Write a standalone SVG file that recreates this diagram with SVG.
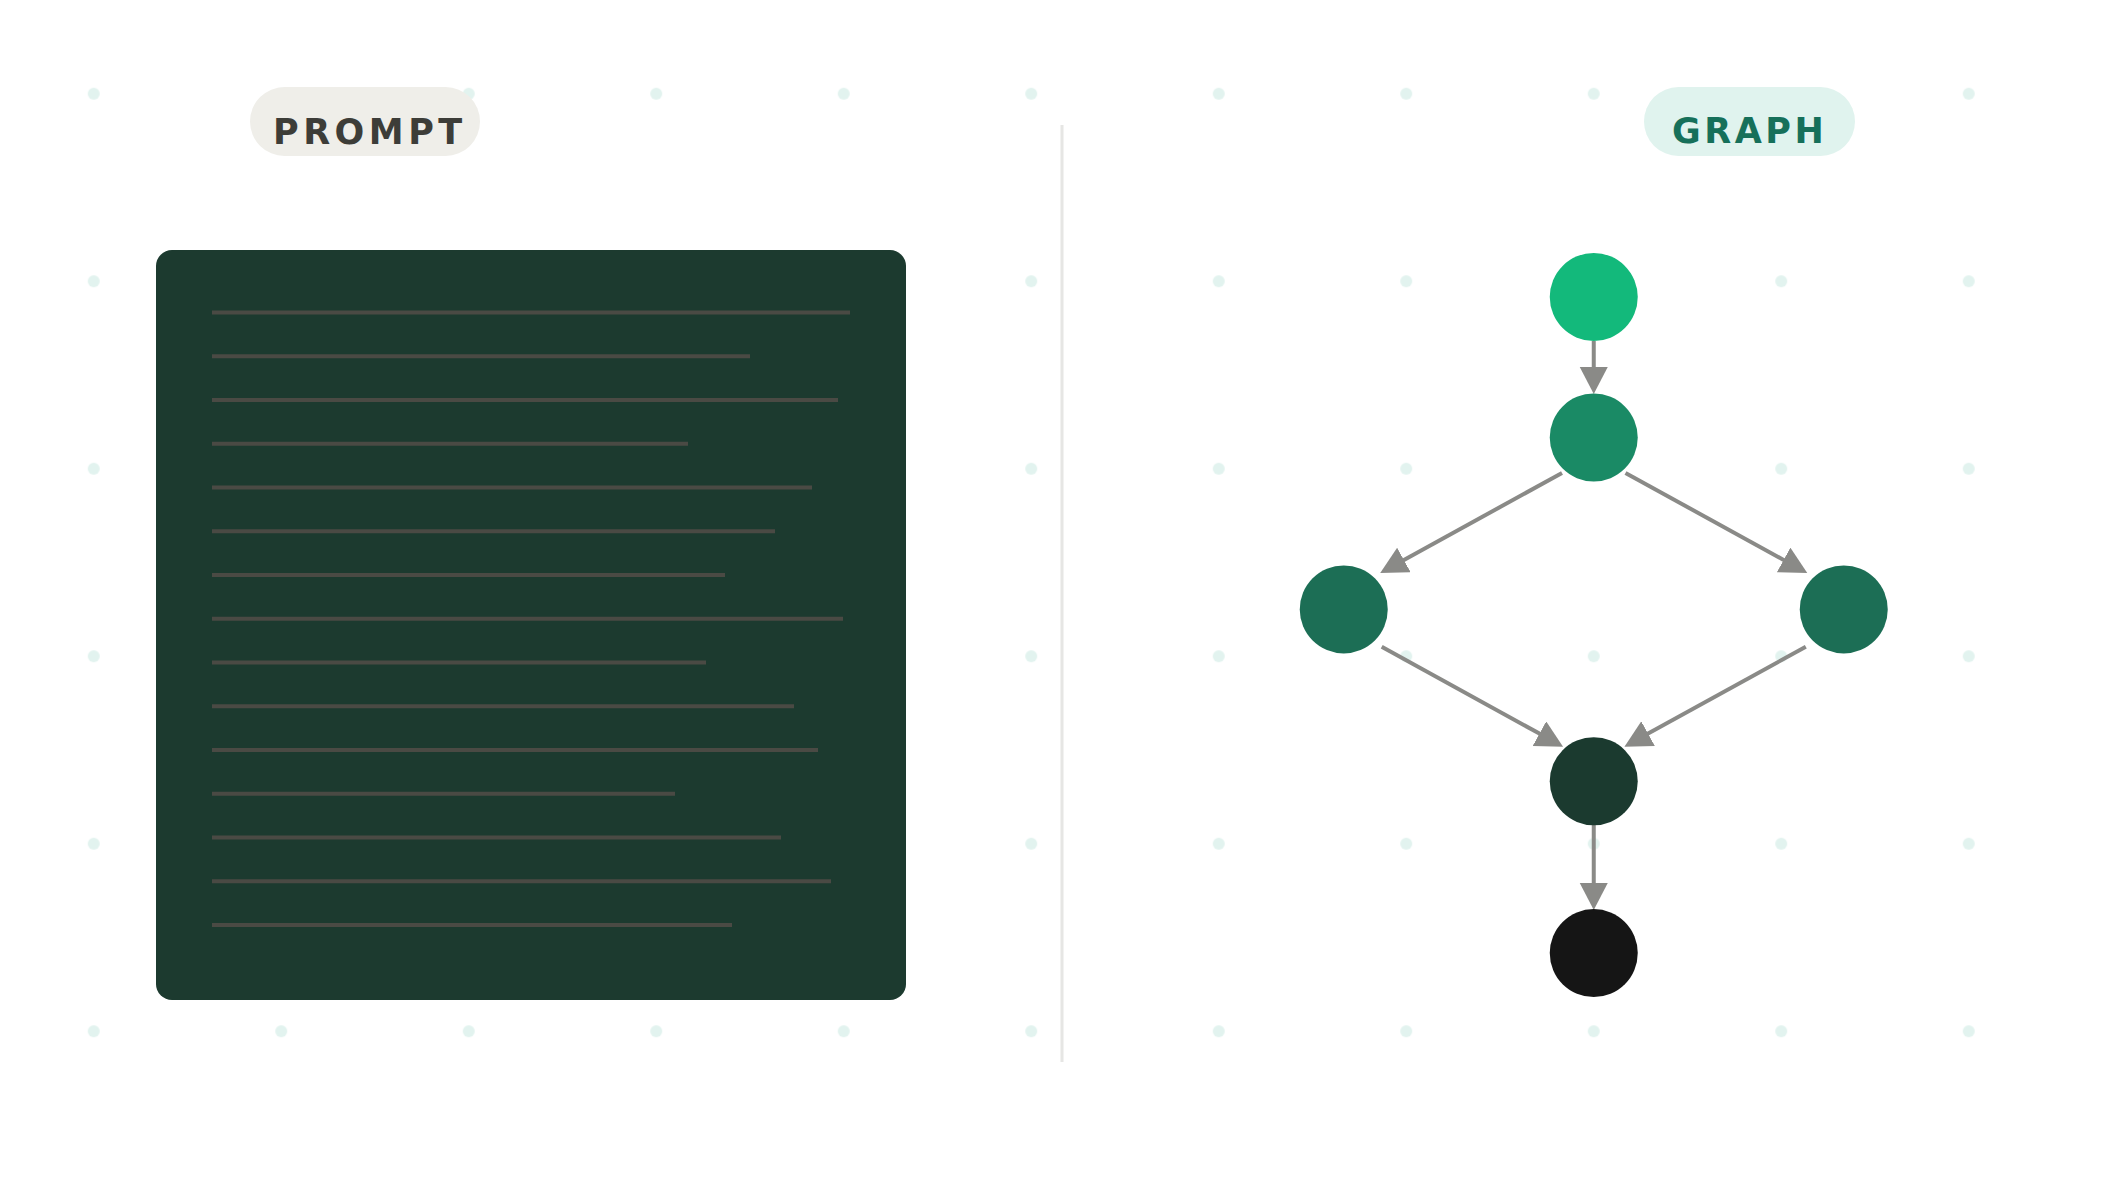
<svg xmlns="http://www.w3.org/2000/svg" width="2125" height="1187" viewBox="0 0 2125 1187">
<defs>
<style>
.dot{fill:#e2f3ef}
.ln{stroke:#4a4a44;stroke-width:4;stroke-linecap:butt}
.edge{stroke:#8a8a87;stroke-width:4;fill:none;marker-end:url(#ah)}
.badge-t{font-family:"DejaVu Sans","Liberation Sans",sans-serif;font-weight:bold;font-size:35px}
</style>
<marker id="ah" markerUnits="userSpaceOnUse" markerWidth="28" markerHeight="29" refX="1" refY="14" orient="auto" viewBox="0 0 28 29">
<path d="M0,0 L27,14 L0,28 Z" fill="#8a8a87"/>
</marker>
<pattern id="dots" patternUnits="userSpaceOnUse" x="0" y="0" width="187.5" height="187.5">
<circle cx="93.75" cy="93.75" r="6" class="dot"/>
</pattern>
</defs>
<rect width="2125" height="1187" fill="#ffffff"/>
<rect x="80" y="80" width="1910" height="965" fill="url(#dots)"/>
<line x1="1062" y1="125" x2="1062" y2="1062" stroke="#e6e6e4" stroke-width="3"/>
<g id="badge-prompt">
<rect x="250" y="87" width="230" height="69" rx="34.5" fill="#efeee9"/>
<text class="badge-t" x="273" y="144" fill="#3d3d38" letter-spacing="4.5">PROMPT</text>
</g>
<g id="badge-graph">
<rect x="1644" y="87" width="211" height="69" rx="34.5" fill="#e0f3ee"/>
<text class="badge-t" x="1672" y="143" fill="#16705a" letter-spacing="3.5">GRAPH</text>
</g>
<g id="prompt-panel">
<rect x="156" y="250" width="750" height="750" rx="16" fill="#1c3a2f"/>
<line class="ln" x1="212" y1="312.5" x2="850" y2="312.5"/>
<line class="ln" x1="212" y1="356.25" x2="750" y2="356.25"/>
<line class="ln" x1="212" y1="400" x2="838" y2="400"/>
<line class="ln" x1="212" y1="443.75" x2="688" y2="443.75"/>
<line class="ln" x1="212" y1="487.5" x2="812" y2="487.5"/>
<line class="ln" x1="212" y1="531.25" x2="775" y2="531.25"/>
<line class="ln" x1="212" y1="575" x2="725" y2="575"/>
<line class="ln" x1="212" y1="618.75" x2="843" y2="618.75"/>
<line class="ln" x1="212" y1="662.5" x2="706" y2="662.5"/>
<line class="ln" x1="212" y1="706.25" x2="794" y2="706.25"/>
<line class="ln" x1="212" y1="750" x2="818" y2="750"/>
<line class="ln" x1="212" y1="793.75" x2="675" y2="793.75"/>
<line class="ln" x1="212" y1="837.5" x2="781" y2="837.5"/>
<line class="ln" x1="212" y1="881.25" x2="831" y2="881.25"/>
<line class="ln" x1="212" y1="925" x2="732" y2="925"/>
</g>
<g id="connectors">
<line class="edge" x1="1593.75" y1="341" x2="1593.75" y2="368"/>
<line class="edge" x1="1562" y1="473" x2="1403" y2="560.4"/>
<line class="edge" x1="1625.5" y1="473" x2="1784.5" y2="560.4"/>
<line class="edge" x1="1381.7" y1="646.7" x2="1540.3" y2="734.1"/>
<line class="edge" x1="1805.8" y1="646.7" x2="1647.2" y2="734.1"/>
<line class="edge" x1="1593.75" y1="825" x2="1593.75" y2="884"/>
</g>
<g id="node-1"><circle cx="1593.75" cy="297" r="44" fill="#13b97b"/></g>
<g id="node-2"><circle cx="1593.75" cy="437.5" r="44" fill="#1a8a65"/></g>
<g id="node-3"><circle cx="1343.75" cy="609.4" r="44" fill="#1c6e55"/></g>
<g id="node-4"><circle cx="1843.75" cy="609.4" r="44" fill="#1c6e55"/></g>
<g id="node-5"><circle cx="1593.75" cy="781.25" r="44" fill="#1b3a2f"/></g>
<g id="node-6"><circle cx="1593.75" cy="953.1" r="44" fill="#151515"/></g>
</svg>
